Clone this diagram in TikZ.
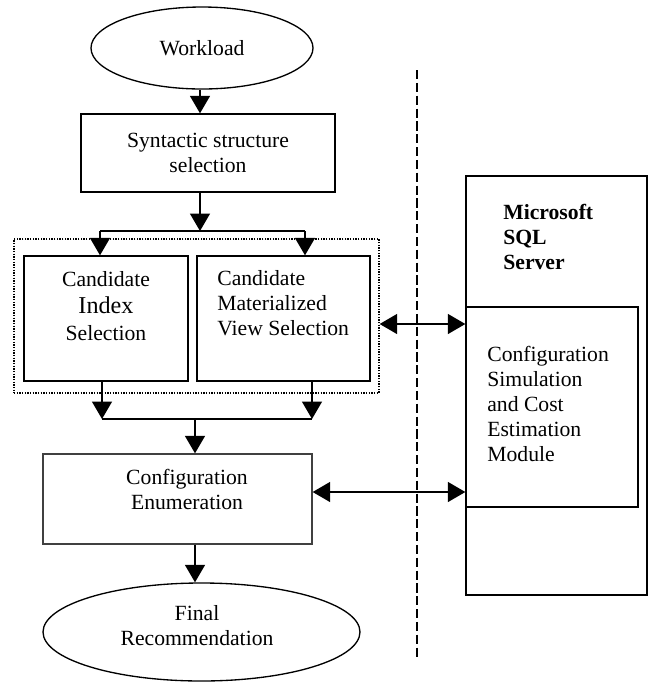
\documentclass[tikz,border=0pt]{standalone}
\usepackage{fontspec}
\setmainfont{Liberation Serif}
\usetikzlibrary{arrows.meta,shapes.geometric}
\begin{document}
\begin{tikzpicture}[
  x=0.6pt, y=-0.6pt,
  font=\fontsize{13}{15}\selectfont,
  box/.style={draw, line width=.8pt, inner sep=0pt, align=center},
  oval/.style={draw, ellipse, line width=.8pt, inner sep=0pt, align=center},
  txt/.style={inner sep=0pt, align=center},
  flow/.style={-{Triangle[length=10.5pt, width=12pt]}, line width=.9pt},
  biflow/.style={{Triangle[length=10.5pt, width=12pt]}-{Triangle[length=10.5pt, width=12pt]}, line width=.9pt},
  group/.style={draw, line width=.8pt, dash pattern=on .8pt off .8pt, inner sep=0pt},
  divider/.style={line width=.8pt, dash pattern=on 5.5pt off 2.2pt}
]
  \useasboundingbox (0,0) rectangle (649,682);
  % left column
  \node[oval, minimum width=133.2pt, minimum height=49.2pt] (work) at (202,48) {Workload};
  \node[box, minimum width=152.4pt, minimum height=46.8pt] (syn) at (208,153) {Syntactic structure\\selection};
  \node[group, minimum width=219pt, minimum height=92.4pt] (grp) at (196.5,316) {};
  \node[box, minimum width=98.4pt, minimum height=75pt] (idx) at (106,318.5) {};
  \node[txt] (idxtxt) at (106,306) {Candidate\\[1pt]{\fontsize{14.5}{15}\selectfont Index}\\[1pt]Selection};
  \node[box, minimum width=103.8pt, minimum height=75pt] (mv) at (283.5,318.5) {};
  \node[txt, anchor=west, align=left] (mvtxt) at (217,303.5) {Candidate\\Materialized\\View Selection};
  \node[box, draw=black!75, minimum width=161.4pt, minimum height=54pt] (enum) at (177.5,499) {};
  \node[txt] (enumtxt) at (187,489) {Configuration\\Enumeration};
  \node[oval, minimum width=190.2pt, minimum height=58.8pt] (final) at (201.5,632) {};
  \node[txt] (finaltxt) at (197,626) {Final\\Recommendation};
  % server side
  \node[box, minimum width=108.6pt, minimum height=251.4pt] (sql) at (556.5,385.5) {};
  \node[txt, anchor=west, align=left, font=\fontsize{13}{15}\selectfont\bfseries] (sqltxt) at (503,237) {Microsoft\\SQL\\Server};
  \node[box, minimum width=103.2pt, minimum height=120pt] (est) at (552,407) {};
  \node[txt, anchor=west, align=left] (esttxt) at (487,404) {Configuration\\Simulation\\and Cost\\Estimation\\Module};
  % branch points and the divider
  \coordinate (split) at (200,231);
  \coordinate (sl) at (100,231);
  \coordinate (sr) at (305,231);
  \coordinate (jl) at (102,419);
  \coordinate (jr) at (312,419);
  \coordinate (merge) at (195,419);
  \coordinate (dtop) at (417,70);
  \coordinate (dbot) at (417,657);
  \coordinate (link1) at (417,324);
  \coordinate (link2) at (417,492);
  \draw[divider] (dtop) -- (dbot);
  % connectors
  \draw[flow] (work.south -| split) -- (split |- syn.north);
  \draw[flow] (split |- syn.south) -- (split);
  \draw[line width=.9pt] (sl) -- (sr);
  \draw[flow] (sl) -- (sl |- idx.north);
  \draw[flow] (sr) -- (sr |- mv.north);
  \draw[flow] (idx.south -| jl) -- (jl);
  \draw[flow] (mv.south -| jr) -- (jr);
  \draw[line width=.9pt] (jl) -- (jr);
  \draw[flow] (merge) -- (merge |- enum.north);
  \draw[flow] (enum.south -| merge) -- (merge |- final.north);
  \draw[biflow] (grp.east |- link1) -- (est.west |- link1);
  \draw[biflow] (enum.east |- link2) -- (est.west |- link2);
\end{tikzpicture}
\end{document}
